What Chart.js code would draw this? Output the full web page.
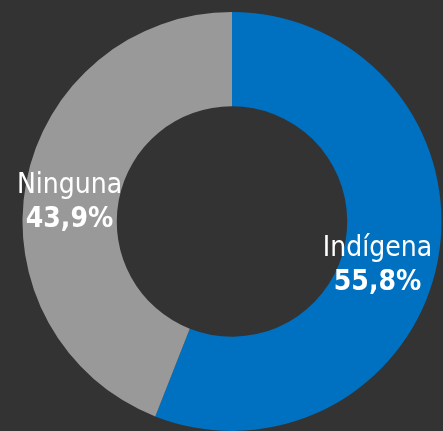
<!DOCTYPE html>
<html lang="es">
<head>
<meta charset="UTF-8" />
<title>Dona</title>
<style>
  html, body {
    margin: 0;
    padding: 0;
    background: #333333;
    overflow: hidden;
  }
  #wrap {
    width: 443px;
    height: 431px;
  }
</style>
<script src="https://cdn.jsdelivr.net/npm/chart.js"></script>
</head>
<body>
<div id="wrap"><canvas id="dona" width="443" height="431"></canvas></div>
<script>
  const categorias = ['Indígena', 'Ninguna'];
  const porcentajes = [55.8, 43.9];
  const etiquetas = ['55,8%', '43,9%'];
  const colores = ['#0070c0', '#999999'];

  // desplazamientos de las etiquetas respecto al punto medio del arco
  const ajustes = [{ dx: -14, dy: 14 }, { dx: -3, dy: 11 }];

  const etiquetasPlugin = {
    id: 'etiquetas',
    afterDatasetsDraw(chart) {
      const ctx = chart.ctx;
      const meta = chart.getDatasetMeta(0);
      meta.data.forEach((arc, i) => {
        const p = arc.getProps(['x', 'y', 'startAngle', 'endAngle', 'outerRadius', 'innerRadius'], true);
        const mid = (p.startAngle + p.endAngle) / 2;
        const r = (p.outerRadius + p.innerRadius) / 2;
        const x = p.x + Math.cos(mid) * r + ajustes[i].dx;
        const y = p.y + Math.sin(mid) * r + ajustes[i].dy;
        ctx.save();
        ctx.fillStyle = '#ffffff';
        ctx.textAlign = 'center';
        ctx.textBaseline = 'middle';
        ctx.font = '28px "DejaVu Sans Condensed", sans-serif';
        ctx.fillText(categorias[i], x, y - 17);
        ctx.font = 'bold 28px "DejaVu Sans Condensed", sans-serif';
        ctx.fillText(etiquetas[i], x, y + 17);
        ctx.restore();
      });
    }
  };

  new Chart(document.getElementById('dona'), {
    type: 'doughnut',
    data: {
      labels: categorias,
      datasets: [{
        data: porcentajes,
        backgroundColor: colores,
        borderWidth: 0
      }]
    },
    options: {
      responsive: false,
      animation: false,
      cutout: '55%',
      layout: { padding: { left: 22, right: 1, top: 12, bottom: 0 } },
      plugins: {
        legend: { display: false },
        tooltip: { enabled: false }
      }
    },
    plugins: [etiquetasPlugin]
  });
</script>
</body>
</html>
